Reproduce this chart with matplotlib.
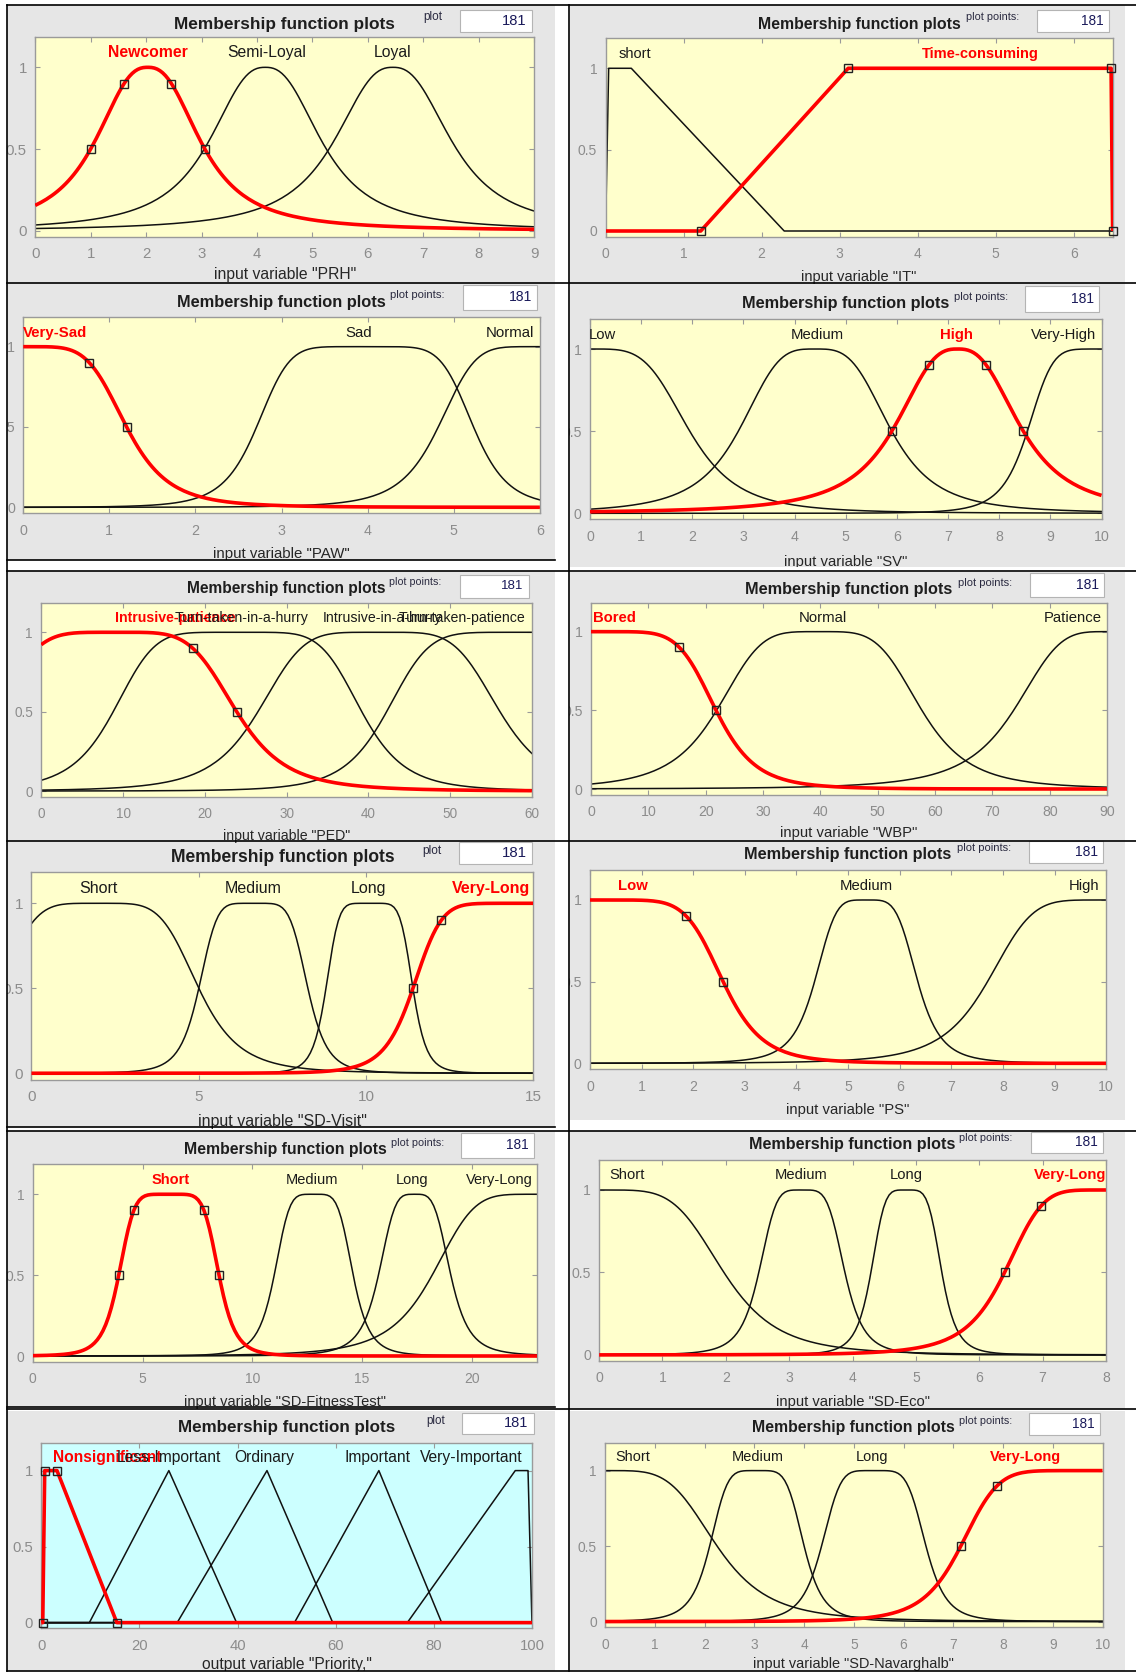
# -*- coding: utf-8 -*-
"""
Membership function plots (12 panels, MATLAB fuzzy toolbox style)
输出: out.png
"""
import numpy as np
import matplotlib
matplotlib.use("Agg")
import matplotlib.pyplot as plt
from matplotlib.patches import Rectangle
from matplotlib.lines import Line2D

plt.rcParams["font.family"] = ["Liberation Sans", "DejaVu Sans"]

# ============================================================
# 数据: 各变量的隶属函数参数 (gbell: a, b, c ; 线性: 顶点)
# ============================================================
prh_names = ["Newcomer", "Semi-Loyal", "Loyal"]
prh_params = [(1.03, 1.25, 2.03), (1.10, 1.25, 4.15), (1.15, 1.25, 6.45)]

it_names = ["short", "Time-consuming"]
it_params = [(0.0, 0.04, 0.33, 2.29), (1.22, 3.11, 6.48, 6.5)]

paw_names = ["Very-Sad", "Sad", "Normal"]
paw_params = [(1.20, 2.46, 0.0), (1.26, 3.17, 3.97), (1.18, 2.6, 6.0)]

sv_names = ["Low", "Medium", "High", "Very-High"]
sv_params = [(1.95, 2.05, 0.0), (1.5, 1.7, 4.4), (1.285, 1.34, 7.185),
             (1.45, 2.8, 10.0)]

ped_names = ["Intrusive-patience", "Turn-taken-in-a-hurry",
             "Intrusive-in-a-hurry", "Turn-taken-patience"]
ped_params = [(14.9, 2.45, 9.0), (15.2, 2.87, 24.0), (14.8, 2.5, 41.3),
              (17.76, 3.3, 60.0)]

wbp_names = ["Bored", "Normal", "Patience"]
wbp_params = [(21.8, 3.16, 0.0), (17.9, 2.14, 39.8), (16.3, 1.83, 90.0)]

visit_names = ["Short", "Medium", "Long", "Very-Long"]
visit_params = [(3.0, 2.46, 2.0), (1.63, 2.85, 6.63), (1.3, 3.25, 10.1),
                (3.6, 4.1, 15.0)]

ps_names = ["Low", "Medium", "High"]
ps_params = [(2.58, 3.4, 0.0), (1.0, 2.25, 5.35), (2.3, 2.5, 10.0)]

fit_names = ["Short", "Medium", "Long", "Very-Long"]
fit_params = [(2.285, 3.08, 6.2), (1.8, 2.43, 12.8), (1.65, 2.0, 17.4),
              (4.8, 2.35, 23.0)]

eco_names = ["Short", "Medium", "Long", "Very-Long"]
eco_params = [(1.97, 2.32, 0.0), (0.68, 2.3, 3.2), (0.56, 2.4, 4.85),
              (1.6, 2.5, 8.0)]

pri_names = ["Nonsignificant", "Less-Important", "Ordinary", "Important",
             "Very-Important"]
pri_params = [(0.3, 0.7, 3.2, 15.4), (9.8, 26.0, 39.8), (27.7, 46.0, 59.4),
              (51.6, 68.8, 81.6), (74.6, 96.6, 99.2, 100.0)]

nav_names = ["Short", "Medium", "Long", "Very-Long"]
nav_params = [(2.25, 2.16, 0.0), (0.95, 2.5, 3.05), (1.05, 2.6, 5.4),
              (2.65, 3.4, 9.8)]

N_POINTS = 181
YMIN, YMAX = -0.037, 1.184

YELLOW = "#FFFFCC"
CYAN = "#CCFFFF"
GREY = "#E6E6E6"
RED = "#FF0000"

# 截图坐标系 (1065 x 1568) -> figure 比例
REF_W, REF_H = 1065.0, 1568.0


def fx(x):
    return x / REF_W


def fy(y):
    return 1 - y / REF_H


# ============================================================
# 面板布局
# ============================================================
panels = [
    dict(names=prh_names, params=prh_params, kind="gbell", sel=0,
         xlim=(0, 9), xticks=list(range(0, 10)), bg=YELLOW,
         xlabel='input variable "PRH"',
         labels=[(2.04, "center"), (4.17, "center"), (6.44, "center")],
         px=(33.0, 500.8), py=(63.1, 216.2), title_y=22.5,
         pp=("plot", 397, 16.2), box=(431, 9.4, 498.6, 29.7), xl_y=257.7,
         sc=1.06),
    dict(names=it_names, params=it_params, kind="lin", sel=1,
         xlim=(0, 6.5), xticks=list(range(0, 7)), bg=YELLOW,
         xlabel='input variable "IT"',
         labels=[(0.37, "center"), (4.8, "center")],
         px=(567.7, 1043.1), py=(64.0, 216.5), title_y=22.5,
         pp=("plot points:", 906, 16.2), box=(972, 9.4, 1040, 30),
         xl_y=259.3, sc=0.98),
    dict(names=paw_names, params=paw_params, kind="gbell", sel=0,
         xlim=(0, 6), xticks=list(range(0, 7)), bg=YELLOW,
         xlabel='input variable "PAW"',
         labels=[(0.0, "left"), (3.9, "center"), (5.93, "right")],
         px=(21.8, 506.1), py=(324.9, 475.5), title_y=283.3,
         pp=("plot points:", 366, 276.5), box=(434, 267.1, 503.8, 290.5),
         xl_y=519.2, sc=1.01),
    dict(names=sv_names, params=sv_params, kind="gbell", sel=2,
         xlim=(0, 10), xticks=list(range(0, 11)), bg=YELLOW,
         xlabel='input variable "SV"',
         labels=[(-0.03, "left"), (4.44, "center"), (7.17, "center"),
                 (9.9, "right")],
         px=(553.1, 1032.7), py=(327.1, 481.1), title_y=284.3,
         pp=("plot points:", 894, 278), box=(961.4, 268, 1030.3, 292),
         xl_y=526.4, sc=1.0),
    dict(names=ped_names, params=ped_params, kind="gbell", sel=0,
         xlim=(0, 60), xticks=list(range(0, 61, 10)), bg=YELLOW,
         xlabel='input variable "PED"',
         labels=[(16.4, "center"), (24.5, "center"), (41.7, "center"),
                 (59.2, "right")],
         px=(38.7, 498.6), py=(592.6, 741.4), title_y=551.4,
         pp=("plot points:", 365, 545.1), box=(430.8, 539, 496, 560),
         xl_y=783.2, sc=0.955),
    dict(names=wbp_names, params=wbp_params, kind="gbell", sel=0,
         xlim=(0, 90), xticks=list(range(0, 91, 10)), bg=YELLOW,
         xlabel='input variable "WBP"',
         labels=[(0.3, "left"), (40.4, "center"), (89.05, "right")],
         px=(554.1, 1037.9), py=(592.0, 739.5), title_y=552.3,
         pp=("plot points:", 898, 546.1), box=(965.5, 536.7, 1035.1, 559.2),
         xl_y=780.4, sc=1.0),
    dict(names=visit_names, params=visit_params, kind="gbell", sel=3,
         xlim=(0, 15), xticks=[0, 5, 10, 15], bg=YELLOW,
         xlabel='input variable "SD-Visit"',
         labels=[(2.0, "center"), (6.63, "center"), (10.08, "center"),
                 (14.9, "right")],
         px=(29.5, 500.1), py=(846.6, 1005.9), title_y=803.5,
         pp=("plot", 396, 797.3), box=(430.1, 788.8, 498.7, 810),
         xl_y=1051.2, sc=1.08),
    dict(names=ps_names, params=ps_params, kind="gbell", sel=0,
         xlim=(0, 10), xticks=list(range(0, 11)), bg=YELLOW,
         xlabel='input variable "PS"',
         labels=[(0.83, "center"), (5.36, "center"), (9.86, "right")],
         px=(553.1, 1037.1), py=(843.5, 996.6), title_y=801.3,
         pp=("plot points:", 897, 795), box=(964.9, 787.9, 1034.4, 809.1),
         xl_y=1040.0, sc=1.0),
    dict(names=fit_names, params=fit_params, kind="gbell", sel=0,
         xlim=(0, 23), xticks=[0, 5, 10, 15, 20], bg=YELLOW,
         xlabel='input variable "SD-FitnessTest"',
         labels=[(6.28, "center"), (12.7, "center"), (17.3, "center"),
                 (22.77, "right")],
         px=(30.8, 503.9), py=(1119.3, 1270.9), title_y=1077.8,
         pp=("plot points:", 366.5, 1071.5), box=(432.5, 1061.5, 500.4, 1085.6),
         xl_y=1313.7, sc=0.98),
    dict(names=eco_names, params=eco_params, kind="gbell", sel=3,
         xlim=(0, 8), xticks=list(range(0, 9)), bg=YELLOW,
         xlabel='input variable "SD-Eco"',
         labels=[(0.44, "center"), (3.19, "center"), (4.85, "center"),
                 (8.0, "right")],
         px=(561.7, 1036.8), py=(1115.3, 1269.9), title_y=1073.1,
         pp=("plot points:", 899, 1066.8), box=(966.3, 1060.5, 1033.8, 1081),
         xl_y=1313.6, sc=0.99),
    dict(names=pri_names, params=pri_params, kind="lin", sel=0,
         xlim=(0, 100), xticks=list(range(0, 101, 20)), bg=CYAN,
         xlabel='output variable "Priority,"',
         labels=[(13.4, "center"), (26.0, "center"), (45.5, "center"),
                 (68.6, "center"), (98.0, "right")],
         px=(38.7, 498.7), py=(1378.3, 1520.8), title_y=1338.0,
         pp=("plot", 399.2, 1331.8), box=(433.1, 1324, 500.2, 1344.3),
         xl_y=1560.4, sc=1.05),
    dict(names=nav_names, params=nav_params, kind="gbell", sel=3,
         xlim=(0, 10), xticks=list(range(0, 11)), bg=YELLOW,
         xlabel='input variable "SD-Navarghalb"',
         labels=[(0.56, "center"), (3.06, "center"), (5.36, "center"),
                 (8.46, "center")],
         px=(567.4, 1033.6), py=(1378.3, 1519.8), title_y=1337.7,
         pp=("plot points:", 899, 1331.8), box=(964.8, 1324.5, 1031.1, 1344.9),
         xl_y=1560.0, sc=0.975),
]


# ============================================================
# 隶属函数
# ============================================================
def gbellmf(x, a, b, c):
    return 1.0 / (1.0 + np.abs((x - c) / a) ** (2 * b))


def linmf(x, p):
    if len(p) == 3:
        p = (p[0], p[1], p[1], p[2])
    a, b, c, d = p
    up = np.ones_like(x) if b == a else (x - a) / (b - a)
    down = np.ones_like(x) if d == c else (d - x) / (d - c)
    return np.clip(np.minimum(up, down), 0, 1)


def handle_points(kind, p, lo, hi):
    """选中曲线上的方形控制点"""
    if kind == "gbell":
        a, b, c = p
        d9 = a * 9 ** (-1.0 / (2 * b))
        pts = [(c - a, 0.5), (c - d9, 0.9), (c + d9, 0.9), (c + a, 0.5)]
    else:
        if len(p) == 3:
            pts = [(p[0], 0), (p[1], 1), (p[2], 0)]
        else:
            pts = [(p[0], 0), (p[1], 1), (p[2], 1), (p[3], 0)]
    return [(x, y) for x, y in pts if lo - 1e-9 <= x <= hi + 1e-9]


# ============================================================
# 绘图
# ============================================================
fig = plt.figure(figsize=(11.36, 16.73), dpi=100, facecolor="white")


def add_rect(x0, y0, x1, y1, **kw):
    r = Rectangle((fx(x0), fy(y1)), fx(x1) - fx(x0), fy(y0) - fy(y1),
                  transform=fig.transFigure, **kw)
    fig.add_artist(r)


def add_line(xs, ys, **kw):
    fig.add_artist(Line2D([fx(v) for v in xs], [fy(v) for v in ys],
                          transform=fig.transFigure, **kw))


# 灰色面板
rows_left = [(4.4, 264.9), (264.9, 524.8), (535.2, 787.9), (787.9, 1056.6),
             (1059.7, 1319.0), (1322.0, 1565.8)]
rows_right = [(4.4, 264.9), (264.9, 531.0), (535.8, 787.9), (787.9, 1050.0),
              (1059.7, 1320.8), (1322.0, 1565.8)]
for (t, b) in rows_left:
    add_rect(7, t, 520, b, facecolor=GREY, edgecolor="none", zorder=-5)
for (t, b) in rows_right:
    add_rect(534, t, 1055, b, facecolor=GREY, edgecolor="none", zorder=-5)

for p in panels:
    lo, hi = p["xlim"]
    x0, x1 = p["px"]
    p1, p0 = p["py"]
    unit = p0 - p1
    top = p1 - (YMAX - 1) * unit
    bot = p0 - YMIN * unit
    sc = p["sc"]
    ax = fig.add_axes([fx(x0), fy(bot), fx(x1) - fx(x0), fy(top) - fy(bot)])
    ax.set_facecolor(p["bg"])
    ax.set_xlim(lo, hi)
    ax.set_ylim(YMIN, YMAX)

    xs = np.linspace(lo, hi, N_POINTS)
    if p["kind"] == "lin":
        extra = [v for prm in p["params"] for v in prm if lo <= v <= hi]
        xs = np.union1d(xs, extra)

    for i, prm in enumerate(p["params"]):
        if p["kind"] == "gbell":
            ys = gbellmf(xs, *prm)
        else:
            ys = linmf(xs, prm)
        if i == p["sel"]:
            ax.plot(xs, ys, color=RED, lw=2.6, zorder=3,
                    solid_capstyle="butt")
        else:
            ax.plot(xs, ys, color="#111111", lw=1.1, zorder=2)

    sel_pts = handle_points(p["kind"], p["params"][p["sel"]], lo, hi)
    ax.plot([q[0] for q in sel_pts], [q[1] for q in sel_pts], ls="none",
            marker="s", ms=5.5, mfc="none", mec="#222222", mew=1.0,
            zorder=4, clip_on=False)

    # 隶属函数名称
    for i, (name, (lx, ha)) in enumerate(zip(p["names"], p["labels"])):
        is_sel = i == p["sel"]
        ax.text(lx, 1.088, name, ha=ha, va="center",
                fontsize=10.7 * sc,
                color=RED if is_sel else "#1A1A1A",
                fontweight="bold" if is_sel else "normal",
                clip_on=True, zorder=5)

    # 坐标轴样式
    ax.set_xticks(p["xticks"])
    ax.set_xticklabels([str(v) for v in p["xticks"]])
    ax.set_yticks([0, 0.5, 1])
    ax.set_yticklabels(["0", "0.5", "1"])
    ax.tick_params(direction="in", length=3.5, width=0.8, color="#9A9A9A",
                   labelcolor="#8C8C8C", labelsize=10.2 * sc,
                   top=True, right=True)
    ax.tick_params(axis="x", pad=7.5)
    ax.tick_params(axis="y", pad=6)
    for s in ax.spines.values():
        s.set_color("#9A9A9A")
        s.set_linewidth(1.0)

    cx = (x0 + x1) / 2
    fig.text(fx(cx), fy(p["title_y"]), "Membership function plots",
             ha="center", va="center", fontsize=11.7 * sc,
             fontweight="bold", color="#1E1E1E")
    fig.text(fx(cx), fy(p["xl_y"]), p["xlabel"], ha="center", va="center",
             fontsize=10.7 * sc, color="#262626")

    txt, tx, ty = p["pp"]
    fig.text(fx(tx), fy(ty), txt, ha="left", va="center",
             fontsize=8.0 * sc, color="#2A2A40")
    bx0, by0, bx1, by1 = p["box"]
    add_rect(bx0, by0, bx1, by1, facecolor="white", edgecolor="#B4B4B4",
             lw=0.8, zorder=1)
    fig.text(fx(bx1 - 5), fy((by0 + by1) / 2), "181", ha="right",
             va="center", fontsize=10.0 * sc, color="#1A1A5A", zorder=3)

# 白色边缘 (截图拼接处)
add_rect(0, 0, 7, REF_H, facecolor="white", edgecolor="none", zorder=5)
add_rect(520, 0, 533.5, REF_H, facecolor="white", edgecolor="none", zorder=5)
add_rect(1055, 0, REF_W, REF_H, facecolor="white", edgecolor="none", zorder=5)
add_rect(7, 524.8, 520, 535.2, facecolor="white", edgecolor="none", zorder=5)
add_rect(534, 531.0, 1055, 535.8, facecolor="white", edgecolor="none", zorder=5)
add_rect(534, 1050.0, 1055, 1059.7, facecolor="white", edgecolor="none",
         zorder=5)
add_rect(0, 1565.8, REF_W, REF_H, facecolor="white", edgecolor="none",
         zorder=5)

# 黑色分隔线
LW = 1.2
add_line([7, 7], [4.4, 1565.8], color="black", lw=LW, zorder=6)
add_line([533.5, 533.5], [4.4, 1565.8], color="black", lw=LW, zorder=6)
for yy in [4.4, 264.9, 535.5, 787.9, 1059.7, 1321.0, 1565.8]:
    add_line([7, 1065], [yy, yy], color="black", lw=LW, zorder=6)
for yy in [524.8, 1056.6, 1319.0]:
    add_line([7, 520], [yy, yy], color="black", lw=LW, zorder=6)

fig.savefig("out.png", dpi=100, facecolor="white")
